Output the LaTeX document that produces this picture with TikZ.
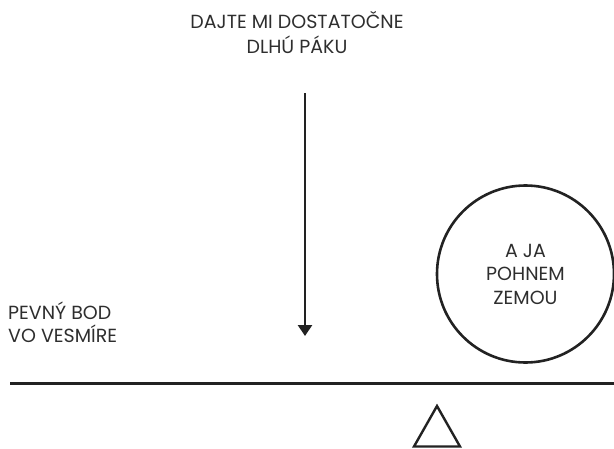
\documentclass[tikz,border=0pt]{standalone}
\usepackage{fontspec}
\setmainfont{Poppins}
\usetikzlibrary{arrows.meta}
\definecolor{ink}{HTML}{222222}
\definecolor{txt}{HTML}{2E2E2E}
\tikzset{
  lbl/.style={text=txt, font=\fontsize{19}{25}\selectfont, inner sep=0pt},
  stroke/.style={draw=ink, line width=2.6pt},
}
\begin{document}
\begin{tikzpicture}[x=1pt, y=-1pt]
\useasboundingbox (0,0) rectangle (614,448);
\node[lbl, align=center, anchor=north] (title) at (297,11) {DAJTE MI DOSTATOČNE\\DLHÚ PÁKU};
\node[lbl, align=left, anchor=north west, font=\fontsize{19}{23}\selectfont] (fixed) at (8,302) {PEVNÝ BOD\\VO VESMÍRE};
\node[stroke, circle, minimum size=177pt, inner sep=0pt, align=center, lbl, font=\fontsize{19}{23.5}\selectfont] (earth) at (525.5,274) {A JA\\POHNEM\\ZEMOU};
\coordinate (astart) at (305,93);
\coordinate (aend) at (305,336);
\draw[stroke, -{Triangle[width=14pt,length=11pt]}, fill=ink] (astart) -- (aend);
\coordinate (lleft) at (10,383);
\coordinate (lright) at (614,383);
\draw[draw=ink, line width=3pt] (lleft) -- (lright);
\coordinate (ta) at (437,406);
\coordinate (tl) at (414,446.5);
\coordinate (tr) at (460,446.5);
\draw[draw=ink, line width=2.4pt, line join=miter] (ta) -- (tr) -- (tl) -- cycle;
\end{tikzpicture}
\end{document}
